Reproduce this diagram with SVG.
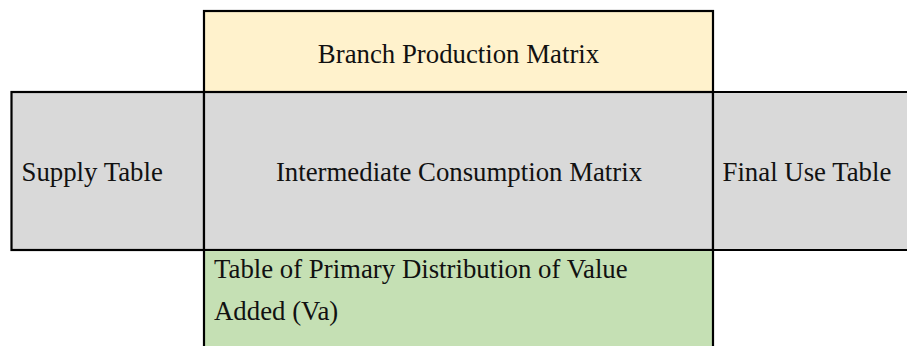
<svg xmlns="http://www.w3.org/2000/svg" width="907" height="346" viewBox="0 0 907 346">
<style>
.c{stroke:#000;stroke-width:2.2}
.t{font-family:"Liberation Serif","Times New Roman",serif;font-size:26.8px;fill:#111}
</style>
<rect width="907" height="346" fill="#fff"/>
<g id="branch-production">
<rect class="c" x="204" y="11" width="509" height="82" fill="#FFF2CC"/>
<text class="t" x="458.5" y="63" text-anchor="middle">Branch Production Matrix</text>
</g>
<g id="supply-table">
<rect class="c" x="11.5" y="92" width="192.5" height="158" fill="#D9D9D9"/>
<text class="t" x="21.5" y="181">Supply Table</text>
</g>
<g id="intermediate-consumption">
<rect class="c" x="204" y="92" width="509" height="158" fill="#D9D9D9"/>
<text class="t" x="459" y="181" text-anchor="middle">Intermediate Consumption Matrix</text>
</g>
<g id="final-use">
<path class="c" d="M913 92H713V250H913" fill="#D9D9D9"/>
<text class="t" x="722.5" y="181">Final Use Table</text>
</g>
<g id="value-added">
<path class="c" d="M204 352V250H713V352" fill="#C5E0B4"/>
<text class="t" x="214" y="278">Table of Primary Distribution of Value</text>
<text class="t" x="214" y="320">Added (Va)</text>
</g>
</svg>
